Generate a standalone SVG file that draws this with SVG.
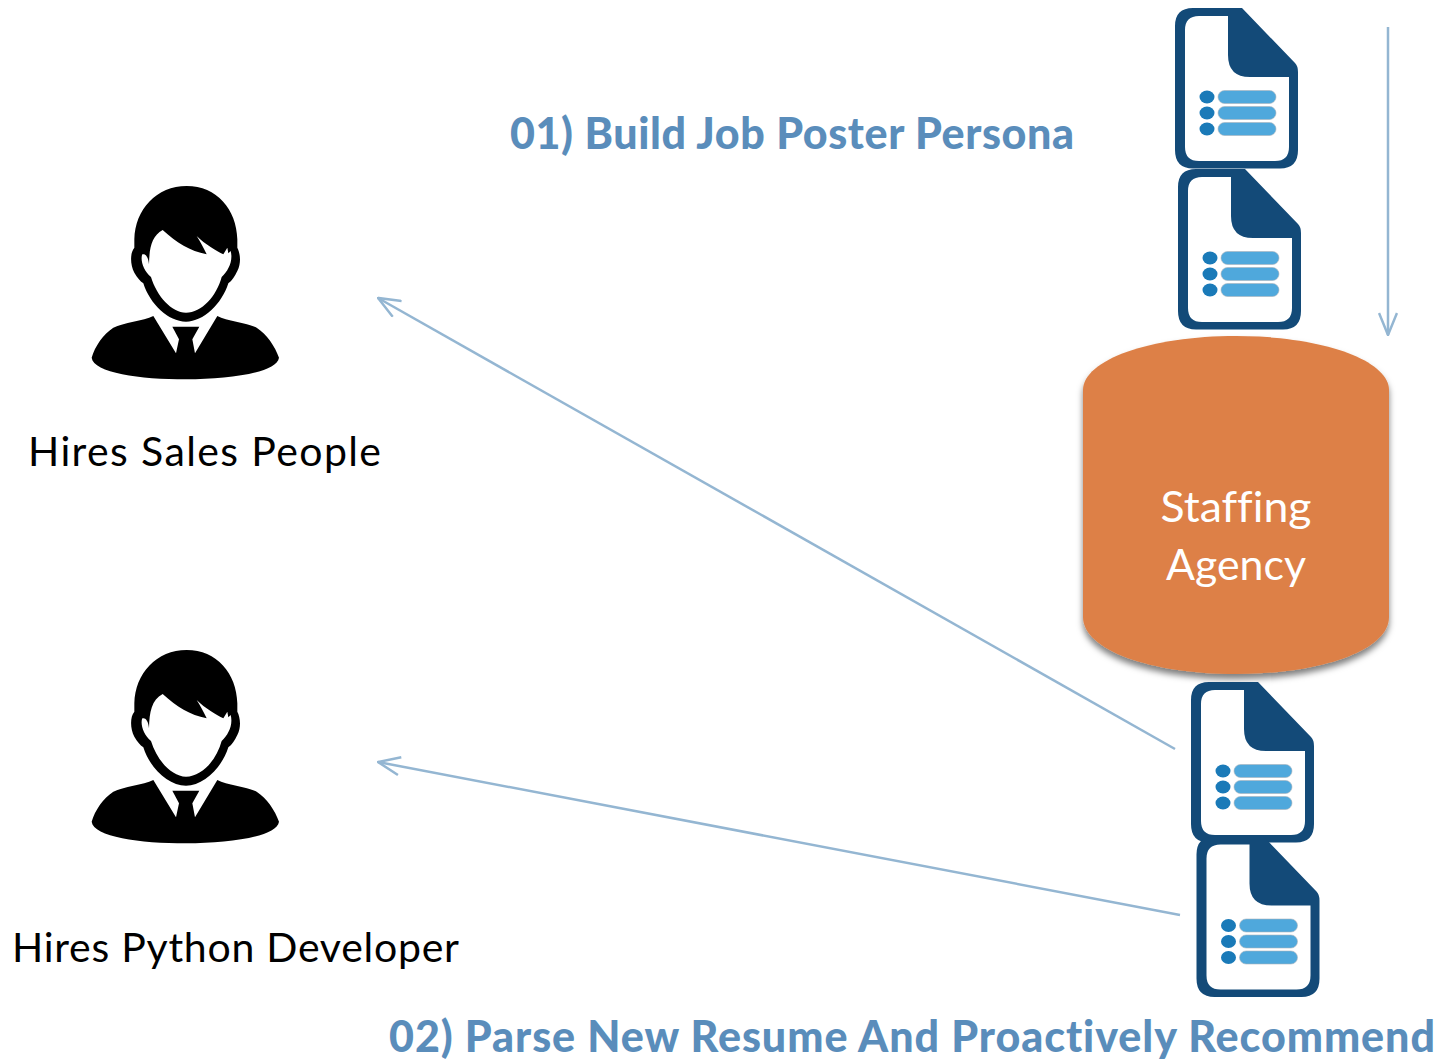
<svg xmlns="http://www.w3.org/2000/svg" xmlns:xlink="http://www.w3.org/1999/xlink" width="1438" height="1059" viewBox="0 0 1438 1059">
<style>
text{font-variant-ligatures:none}
.lbl{font-family:"Lato","Liberation Sans",sans-serif;font-size:41px;fill:#000}
.ttl{font-family:"Lato","Liberation Sans",sans-serif;font-size:43px;font-weight:900;fill:#5a8dbb}
.cyl{font-family:"Lato","Liberation Sans",sans-serif;font-size:43px;fill:#fff;text-anchor:middle}
.conn{fill:none;stroke:#94b6d2;stroke-width:2.500;marker-end:url(#open)}
</style>
<defs>
<marker id="open" viewBox="0 0 24 20" refX="23" refY="10" markerWidth="24" markerHeight="20" markerUnits="userSpaceOnUse" orient="auto"><path d="M1,1 L23,10 L1,19" fill="none" stroke="#94b6d2" stroke-width="2.500"/></marker>
<filter id="sh" x="-5%" y="-5%" width="110%" height="115%"><feDropShadow dx="0" dy="5" stdDeviation="3" flood-color="#000" flood-opacity=".5"/></filter>
<g id="doc">
<path fill="#134a78" d="M18,0 H67 L120,55 Q123,58 123,64 V142 Q123,160.500 105,160.500 H18 Q0,160.500 0,142 V18 Q0,0 18,0Z"/>
<path fill="#fff" d="M53,8 V47 Q53,69 75,69 H114 V139 Q114,153 100,153 H24 Q10,153 10,139 V22 Q10,8 24,8Z"/>
<g fill="#1a7ab8"><ellipse cx="32" cy="89" rx="7.500" ry="6.500"/><ellipse cx="32" cy="105" rx="7.500" ry="6.500"/><ellipse cx="32" cy="121" rx="7.500" ry="6.500"/></g>
<g fill="#4fa8dc" stroke="#aab4bc" stroke-width=".6"><rect x="43" y="82.500" width="58" height="13" rx="6.500"/><rect x="43" y="98.500" width="58" height="13" rx="6.500"/><rect x="43" y="114.500" width="58" height="13" rx="6.500"/></g>
</g>
<g id="person" transform="translate(80,176) scale(.33333)">
<path d="M220,420 C190,435 130,440 100,455 C70,475 45,510 35,545 C40,590 180,610 318,610 C450,610 590,590 597,545 C585,510 560,475 530,455 C500,440 440,435 412,420 L345,532 L337,490 L358,452 L277,452 L297,490 L288,532Z"/>
<path d="M320,30 C230,30 165,100 163,190 L163,215 C150,230 150,265 163,290 C172,305 180,315 190,322 C210,385 265,437 318,437 C370,437 425,385 445,322 C455,315 465,300 472,285 C485,260 480,230 472,215 L472,190 C470,100 410,30 320,30Z"/>
<path fill="#fff" d="M248,162 C215,180 208,215 207,265 C205,240 195,232 187,235 C180,250 190,285 213,303 C230,360 275,410 318,410 C365,410 410,360 425,303 C445,285 460,255 452,225 L445,232 L442,215 L430,235 C410,225 375,205 350,180 C360,195 370,215 380,235 C330,225 290,200 248,162Z"/>
</g>
</defs>
<g id="connectors">
<path class="conn" d="M1175,749 L378,298"/>
<path class="conn" d="M1180,915 L378,762"/>
<path class="conn" d="M1388,27 L1388,335"/>
</g>
<g id="doc1"><use href="#doc" x="1175" y="8"/></g>
<g id="doc2"><use href="#doc" x="1178" y="169"/></g>
<g id="agency">
<path fill="#dd8047" filter="url(#sh)" d="M1083,390 C1083,360 1150,336 1236,336 C1322,336 1389,360 1389,390 V617 C1389,650 1322,674 1236,674 C1150,674 1083,650 1083,617Z"/>
<text class="cyl" x="1236" y="522" textLength="151" lengthAdjust="spacingAndGlyphs">Staffing</text>
<text class="cyl" x="1236" y="580" textLength="140" lengthAdjust="spacingAndGlyphs">Agency</text>
</g>
<g id="doc3"><use href="#doc" x="1191" y="682"/></g>
<g id="doc4"><use href="#doc" x="1196.500" y="836.500"/></g>
<g id="sales"><use href="#person"/><text class="lbl" x="28" y="466" textLength="353">Hires Sales People</text></g>
<g id="python"><use href="#person" y="464"/><text class="lbl" x="12" y="962" textLength="447">Hires Python Developer</text></g>
<g id="title1"><text class="ttl" x="510" y="149" textLength="564">01) Build Job Poster Persona</text></g>
<g id="title2"><text class="ttl" x="389" y="1052" textLength="1046">02) Parse New Resume And Proactively Recommend</text></g>
</svg>
